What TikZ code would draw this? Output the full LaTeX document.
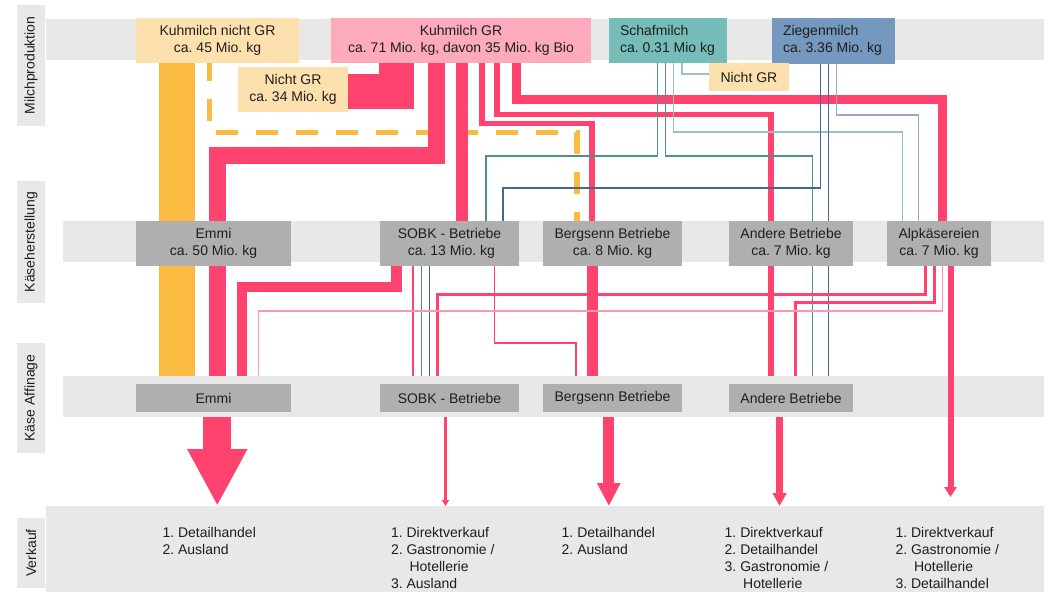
\documentclass[tikz,border=0pt]{standalone}
\usepackage{fontspec}
\setmainfont{Liberation Sans}
\usetikzlibrary{arrows.meta}
\pgfdeclarelayer{bg}
\pgfdeclarelayer{lines}
\pgfsetlayers{bg,lines,main}
\definecolor{pk}{RGB}{255,66,110}
\definecolor{pklight}{RGB}{255,150,172}
\definecolor{pkbox}{RGB}{253,170,189}
\definecolor{org}{RGB}{251,186,65}
\definecolor{orgbox}{RGB}{252,224,174}
\definecolor{tealbox}{RGB}{118,189,185}
\definecolor{tealln}{RGB}{76,145,142}
\definecolor{teallt}{RGB}{150,196,194}
\definecolor{bluebox}{RGB}{116,152,190}
\definecolor{blueln}{RGB}{70,103,142}
\definecolor{bluelt}{RGB}{150,170,196}
\definecolor{band}{RGB}{232,232,232}
\definecolor{grbox}{RGB}{175,175,175}
\definecolor{txt}{RGB}{30,30,30}
\frenchspacing
\begin{document}
\begin{tikzpicture}[x=1pt,y=-1pt,
  every node/.style={font=\fontsize{14}{17}\selectfont\frenchspacing, text=txt, inner sep=0pt, outer sep=0pt},
  topbox/.style={rectangle, minimum height=44.4pt, align=center},
  kbox/.style={rectangle, fill=grbox, minimum height=45pt, align=center},
  abox/.style={rectangle, fill=grbox, minimum height=28pt, align=center},
  side/.style={rectangle, fill=band, minimum height=28pt, rotate=90},
  flow/.style={draw=pk, line join=miter, line cap=butt},
  thinln/.style={line width=1.3pt, line join=miter},
  vlist/.style={anchor=base west}
]
\useasboundingbox (0,0) rectangle (1047,592);

% bands
\begin{pgfonlayer}{bg}
\fill[white] (0,0) rectangle (1047,592);
\fill[band] (45.6,19.3) rectangle (1043.7,60);
\fill[band] (63,221) rectangle (1043.7,262);
\fill[band] (63,376) rectangle (1043.7,417);
\fill[band] (45.6,506) rectangle (1043.7,592);
\end{pgfonlayer}

% side labels
\node[side, minimum width=121pt] (sMilch) at (31,65.5) {Milchproduktion};
\node[side, minimum width=122pt] (sKaese) at (31,242) {Käseherstellung};
\node[side, minimum width=110pt] (sAff) at (31,398) {Käse Affinage};
\node[side, minimum width=70pt] (sVerk) at (31,553) {Verkauf};

% top boxes
\node[topbox, fill=orgbox, minimum width=163pt] (kmNGR) at (217.5,40.5) {Kuhmilch nicht GR\\ca. 45 Mio. kg};
\node[topbox, fill=pkbox, minimum width=260pt] (kmGR) at (461,40.5) {Kuhmilch GR\\ca. 71 Mio. kg, davon 35 Mio. kg Bio};
\node[rectangle, fill=tealbox, minimum height=44.4pt, inner xsep=11pt] (schaf) at (667.85,40.5)
  {\makebox[95.7pt][l]{\begin{tabular}{@{}l@{}}Schafmilch\\ca. 0.31 Mio kg\end{tabular}}};
\node[rectangle, fill=bluebox, minimum height=46pt, inner xsep=11pt] (ziegen) at (833.4,40.5)
  {\makebox[100.8pt][l]{\begin{tabular}{@{}l@{}}Ziegenmilch\\ca. 3.36 Mio. kg\end{tabular}}};
\node[rectangle, fill=orgbox, minimum width=80pt, minimum height=28pt] (nGR2) at (748.9,77) {Nicht GR};
\node[topbox, fill=orgbox, minimum width=110.6pt] (nGR34) at (293,89.5) {Nicht GR\\ca. 34 Mio. kg};

% Kaeseherstellung boxes
\node[kbox, minimum width=155pt] (kEmmi) at (213.5,243.5) {Emmi\\ca. 50 Mio. kg};
\node[kbox, minimum width=139pt] (kSOBK) at (449.5,243.5) {SOBK - Betriebe\\\ ca. 13 Mio. kg};
\node[kbox, minimum width=139pt] (kBerg) at (612.5,243.5) {Bergsenn Betriebe\\ca. 8 Mio. kg};
\node[kbox, minimum width=124pt] (kAnd) at (791,243.5) {Andere Betriebe\\ca. 7 Mio. kg};
\node[kbox, minimum width=104pt] (kAlp) at (939,243.5) {Alpkäsereien\\ca. 7 Mio. kg};

% Affinage boxes
\node[abox, minimum width=155pt] (aEmmi) at (213.5,398) {Emmi};
\node[abox, minimum width=139pt] (aSOBK) at (449.5,398) {SOBK - Betriebe};
\node[abox, minimum width=139pt] (aBerg) at (612.5,398) {Bergsenn Betriebe};
\node[abox, minimum width=124pt] (aAnd) at (791,398) {Andere Betriebe};

% Verkauf lists
\node[vlist] (lEmmi) at (162.5,537) {\begin{tabular}[t]{@{}l@{}}1. Detailhandel\\2. Ausland\end{tabular}};
\node[vlist] (lSOBK) at (391,537) {\begin{tabular}[t]{@{}l@{}}1. Direktverkauf\\2. Gastronomie /\\\hspace*{18.5pt}Hotellerie\\3. Ausland\end{tabular}};
\node[vlist] (lBerg) at (561.7,537) {\begin{tabular}[t]{@{}l@{}}1. Detailhandel\\2. Ausland\end{tabular}};
\node[vlist] (lAnd) at (724.7,537) {\begin{tabular}[t]{@{}l@{}}1. Direktverkauf\\2. Detailhandel\\3. Gastronomie /\\\hspace*{18.5pt}Hotellerie\end{tabular}};
\node[vlist] (lAlp) at (895.5,537) {\begin{tabular}[t]{@{}l@{}}1. Direktverkauf\\2. Gastronomie /\\\hspace*{18.5pt}Hotellerie\\3. Detailhandel\end{tabular}};

% arrow end points on the Verkauf band
\coordinate (vEmmi) at (217.3,506);
\coordinate (vSOBK) at (445.5,506);
\coordinate (vBerg) at (608.8,506);
\coordinate (vAnd) at (779.6,506);
\coordinate (vAlp) at (950.5,497);

\begin{pgfonlayer}{lines}
% orange (Kuhmilch nicht GR)
\draw[draw=org, line width=35.7pt] ([xshift=-40.35pt]kmNGR.south) -- ([xshift=-36.35pt]kEmmi.north);
\draw[draw=org, line width=35.7pt] ([xshift=-36.35pt]kEmmi.south) -- ([xshift=-36.35pt,yshift=8pt]aEmmi.north);
\draw[draw=org, line width=5.3pt, line join=miter, dash pattern=on 22pt off 18pt, dash phase=3.4pt]
  ([xshift=-8.2pt]kmNGR.south) |- (577,132.5) -- ([xshift=-35.5pt]kBerg.north);

% pink (Kuhmilch GR)
\draw[flow, line width=35pt] ([xshift=-64.5pt]kmGR.south) |- ([yshift=-2pt]nGR34.east);
\draw[flow, line width=16.7pt] ([xshift=-24.3pt]kmGR.south) |- (217.3,155.5) -- ([xshift=3.8pt]kEmmi.north);
\draw[flow, line width=16.7pt] ([xshift=3.8pt]kEmmi.south) -- ([xshift=3.8pt,yshift=8pt]aEmmi.north);
\draw[flow, line width=12pt] ([xshift=0.7pt]kmGR.south) -- ([xshift=12.2pt]kSOBK.north);
\draw[flow, line width=5.7pt] ([xshift=21pt]kmGR.south) |- (592,123.5) -- ([xshift=-20.5pt]kBerg.north);
\draw[flow, line width=5.7pt] ([xshift=36pt]kmGR.south) |- (771,114.5) -- ([xshift=-20pt]kAnd.north);
\draw[flow, line width=9pt] ([xshift=55.7pt]kmGR.south) |- (942.7,99) -- ([xshift=3.7pt]kAlp.north);

% Schafmilch
\draw[thinln, draw=teallt] ([xshift=14.15pt]schaf.south) |- ([yshift=3pt]nGR2.west);
\draw[thinln, draw=tealln] ([xshift=-10.05pt]schaf.south) |- (486,156) -- ([xshift=36.5pt]kSOBK.north);
\draw[thinln, draw=tealln] ([xshift=-2.65pt]schaf.south) |- (812.4,156) -- ([xshift=21.4pt]kAnd.north);
\draw[thinln, draw=teallt] ([xshift=5.75pt]schaf.south) |- (902.5,132) -- ([xshift=-36.5pt]kAlp.north);

% Ziegenmilch
\draw[thinln, draw=blueln] ([xshift=-13.2pt]ziegen.south) |- (503,188) -- ([xshift=53.5pt]kSOBK.north);
\draw[thinln, draw=blueln] ([xshift=-5.2pt]ziegen.south) -- ([xshift=37.2pt]kAnd.north);
\draw[thinln, draw=bluelt] ([xshift=3.2pt]ziegen.south) |- (918.3,115) -- ([xshift=-20.7pt]kAlp.north);

% Kaeseherstellung -> Affinage
\draw[flow, line width=10.2pt] ([xshift=-53pt]kSOBK.south) |- (242,287) -- ([xshift=28.5pt,yshift=8pt]aEmmi.north);
\draw[flow, line width=2pt] ([xshift=-36.8pt]kSOBK.south) -- ([xshift=-36.8pt,yshift=8pt]aSOBK.north);
\draw[thinln, draw=tealln] ([xshift=-28.2pt]kSOBK.south) -- ([xshift=-28.2pt,yshift=8pt]aSOBK.north);
\draw[thinln, draw=blueln] ([xshift=-20.2pt]kSOBK.south) -- ([xshift=-20.2pt,yshift=8pt]aSOBK.north);
\draw[flow, line width=1.2pt] ([xshift=44.8pt]kSOBK.south) |- (576,343) -- ([xshift=-36.5pt,yshift=8pt]aBerg.north);
\draw[flow, line width=11.7pt] ([xshift=-20pt]kBerg.south) -- ([xshift=-20pt,yshift=8pt]aBerg.north);
\draw[flow, line width=5.5pt] ([xshift=-20pt]kAnd.south) -- ([xshift=-20pt,yshift=8pt]aAnd.north);
\draw[thinln, draw=tealln] ([xshift=21.4pt]kAnd.south) -- ([xshift=21.4pt,yshift=8pt]aAnd.north);
\draw[thinln, draw=blueln] ([xshift=37.3pt]kAnd.south) -- ([xshift=37.3pt,yshift=8pt]aAnd.north);
\draw[flow, line width=3pt] ([xshift=-13.5pt]kAlp.south) |- (437.7,294.5) -- ([xshift=-11.8pt,yshift=8pt]aSOBK.north);
\draw[flow, line width=3pt] ([xshift=-5pt]kAlp.south) |- (795.8,302.7) -- ([xshift=4.8pt,yshift=8pt]aAnd.north);
\draw[flow, draw=pklight, line width=1.5pt] ([xshift=3.6pt]kAlp.south) |- (258.6,311) -- ([xshift=45.1pt,yshift=8pt]aEmmi.north);
\draw[flow, line width=6pt, -{Triangle[width=12pt,length=10pt]}] ([xshift=11.5pt]kAlp.south) -- (vAlp);

% Affinage -> Verkauf
\draw[flow, line width=28pt, -{Triangle[width=56pt,length=57pt]}] ([xshift=3.8pt,yshift=-5pt]aEmmi.south) -- (vEmmi);
\draw[flow, line width=2.5pt, -{Triangle[width=7pt,length=6pt]}] ([xshift=-4pt,yshift=-5pt]aSOBK.south) -- (vSOBK);
\draw[flow, line width=10.7pt, -{Triangle[width=22pt,length=23pt]}] ([xshift=-3.7pt,yshift=-5pt]aBerg.south) -- (vBerg);
\draw[flow, line width=6.7pt, -{Triangle[width=13.4pt,length=13pt]}] ([xshift=-11.4pt,yshift=-5pt]aAnd.south) -- (vAnd);
\end{pgfonlayer}
\end{tikzpicture}
\end{document}
